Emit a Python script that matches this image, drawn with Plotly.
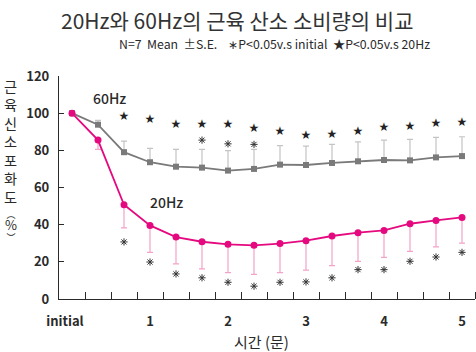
import plotly.graph_objects as go

# x positions: index of measurement (every 20 s); 0 = initial, 3 = 1 min, ...
idx = list(range(16))
tick_pos = [-0.27, 3, 6, 9, 12, 15]
tick_text = ["initial", "1", "2", "3", "4", "5"]

hz60 = [100, 93.8, 79.0, 73.6, 71.2, 70.7, 69.1, 70.0, 72.3, 72.1, 73.2, 74.1, 74.8, 74.6, 76.2, 76.9]
hz60_se = [0, 2.3, 6.0, 7.5, 9.3, 9.8, 10.7, 10.5, 10.2, 10.2, 10.0, 10.5, 10.7, 11.3, 10.8, 10.4]

hz20 = [100, 85.5, 50.7, 39.6, 33.3, 30.8, 29.4, 28.9, 29.8, 31.4, 33.9, 35.7, 36.9, 40.5, 42.3, 43.9]
hz20_se = [0, 5.0, 12.4, 14.5, 14.4, 14.6, 15.2, 15.6, 15.6, 15.9, 15.9, 15.4, 14.5, 14.9, 14.3, 13.8]

# significance marks
star_idx = list(range(2, 16))
star_y = [98.0, 96.2, 93.6, 93.9, 93.9, 91.6, 89.6, 87.8, 88.2, 90.0, 92.1, 92.3, 94.1, 94.6]
ast60_idx = [5, 6, 7]
ast60_y = [85.5, 83.5, 83.2]
ast20_idx = list(range(2, 16))
ast20_y = [30.7, 19.9, 13.5, 11.4, 9.0, 6.9, 9.0, 9.2, 11.4, 15.8, 15.8, 20.3, 22.6, 25.1]

ytitle_main = "근육신소포화도"

GRAY = "#7a7a7a"
PINK = "#e5097f"
DARK = "#2a2a2a"
FONT = "Noto Sans CJK KR"

fig = go.Figure()

fig.add_trace(go.Scatter(
    x=idx, y=hz60, mode="lines+markers",
    line=dict(color=GRAY, width=1.8),
    marker=dict(symbol="square", size=6, color=GRAY),
    error_y=dict(type="data", symmetric=False, array=hz60_se, arrayminus=[0] * 16,
                 color="#c4c4c4", thickness=1.2, width=3),
    showlegend=False,
))
fig.add_trace(go.Scatter(
    x=idx, y=hz20, mode="lines+markers",
    line=dict(color=PINK, width=1.8),
    marker=dict(symbol="circle", size=7, color=PINK),
    error_y=dict(type="data", symmetric=False, array=[0] * 16, arrayminus=hz20_se,
                 color="#f4a3c8", thickness=1.2, width=3),
    showlegend=False,
))
fig.add_trace(go.Scatter(
    x=star_idx, y=star_y, mode="text", text=["★"] * len(star_idx),
    textfont=dict(family="DejaVu Sans", size=12, color="#222222"), showlegend=False,
))
fig.add_trace(go.Scatter(
    x=ast60_idx + ast20_idx, y=ast60_y + ast20_y, mode="markers",
    marker=dict(symbol="asterisk-open", size=6, color="#333333",
                line=dict(color="#333333", width=1)),
    showlegend=False,
))

def py(px):
    # pixel row -> paper y
    return (299.5 - px) / 223.6

def px_x(px):
    return (px - 59) / 416

annotations = [
    dict(text="20Hz와 60Hz의 근육 산소 소비량의 비교", xref="paper", yref="paper",
         x=px_x(237), y=py(20), xanchor="center", yanchor="middle",
         showarrow=False, font=dict(family=FONT, size=21, color="#333333")),
    dict(text="N=7  Mean  ±S.E.    ∗P<0.05v.s initial  ★P<0.05v.s 20Hz", xref="paper", yref="paper",
         x=px_x(274), y=py(44), xanchor="center", yanchor="middle",
         showarrow=False, font=dict(family=FONT, size=12.3, color=DARK)),
    dict(text="60Hz", x=1.46, y=108, xref="x", yref="y", showarrow=False,
         font=dict(family=FONT, size=14, color=DARK, weight=500)),
    dict(text="20Hz", x=3.65, y=52.3, xref="x", yref="y", showarrow=False,
         font=dict(family=FONT, size=14, color=DARK, weight=500)),
    dict(text="시간 (문)", xref="paper", yref="paper",
         x=px_x(261), y=py(342), xanchor="center", yanchor="middle",
         showarrow=False, font=dict(family=FONT, size=15, color=DARK)),
    dict(text="<br>".join(ytitle_main), xref="paper", yref="paper",
         x=px_x(10), y=py(142), xanchor="center", yanchor="middle",
         showarrow=False, font=dict(family=FONT, size=14.2, color=DARK)),
    dict(text="︵<br><span style='font-size:13px'>%</span><br>︶", xref="paper", yref="paper",
         x=px_x(10.5), y=py(226), xanchor="center", yanchor="middle",
         showarrow=False, font=dict(family=FONT, size=9, color=DARK)),
]

fig.update_layout(
    width=476, height=352,
    margin=dict(l=59, r=1, t=76, b=53),
    paper_bgcolor="white", plot_bgcolor="white",
    font=dict(family=FONT, color=DARK),
    xaxis=dict(
        range=[-0.5, 15.5], showgrid=False, zeroline=False,
        showline=True, linecolor=DARK, linewidth=1.3,
        tickmode="array", tickvals=tick_pos, ticktext=tick_text, ticks="",
        tickfont=dict(family=FONT, size=13, color=DARK, weight=600),
        ticklabelstandoff=10,
        minor=dict(tickmode="array", tickvals=[i + 0.5 for i in idx],
                   ticks="inside", ticklen=7, tickcolor=DARK, tickwidth=1.3, showgrid=False),
    ),
    yaxis=dict(
        range=[0, 120], showgrid=False, zeroline=False,
        showline=True, linecolor=DARK, linewidth=1.3,
        tickvals=[0, 20, 40, 60, 80, 100, 120], ticks="inside", ticklen=5,
        tickcolor=DARK, tickwidth=1.3,
        tickfont=dict(family=FONT, size=13, color=DARK, weight=600),
        ticklabelstandoff=6,
    ),
    annotations=annotations,
)

fig.write_html("out.html")
